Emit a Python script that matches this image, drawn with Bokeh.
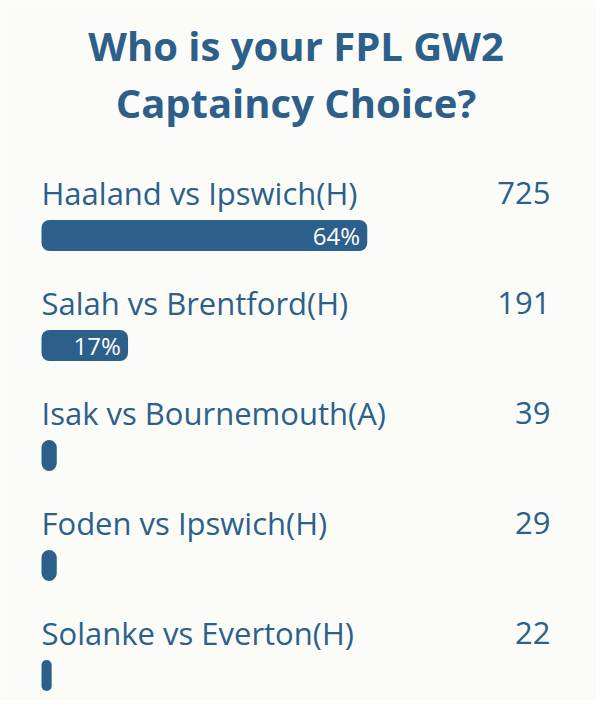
from bokeh.plotting import figure
from bokeh.models import Range1d, ColumnDataSource
from bokeh.core.properties import value
from bokeh.embed import file_html
from bokeh.resources import INLINE

# ---- data ----
title_lines = ["Who is your FPL GW2", "Captaincy Choice?"]
choices = ["Haaland vs Ipswich(H)", "Salah vs Brentford(H)", "Isak vs Bournemouth(A)",
           "Foden vs Ipswich(H)", "Solanke vs Everton(H)"]
votes = [725, 191, 39, 29, 22]
percents = [64, 17, 3, 3, 2]
pct_labels = ["64%", "17%", "", "", ""]

# ---- style / layout ----
BG = "#fbfcf8"
BLUE = "#2d5f8b"
FONT = "Open Sans"
W, H = 596, 700
PX_PER_PCT = 5.09          # 100% spans the full bar track
LEFT_PX = 41               # track start inside the figure
ROW0 = 192                 # first label row (figure px from top)
ROW_STEP = 110
BAR_OFF = 43

x0 = -LEFT_PX / PX_PER_PCT
x1 = x0 + W / PX_PER_PCT

p = figure(width=W, height=H, output_backend="svg", toolbar_location=None,
           x_range=Range1d(x0, x1), y_range=Range1d(H, 0),
           x_axis_type=None, y_axis_type=None, min_border=0)
p.background_fill_color = BG
p.border_fill_color = BG
p.outline_line_color = None
p.xgrid.visible = False
p.ygrid.visible = False

n = len(choices)
label_y = [ROW0 + i * ROW_STEP for i in range(n)]
bar_y = [y + BAR_OFF for y in label_y]

src = ColumnDataSource(dict(choice=choices, votes=[str(v) for v in votes],
                            pct=percents, pct_label=pct_labels,
                            ly=label_y, by=bar_y))

# title
p.text(x=[50, 50], y=[45, 102], text=title_lines, text_font=value(FONT),
       text_font_style="bold", text_font_size="40px", text_color=BLUE,
       text_align="center", text_baseline="middle")

# labels and counts
p.text(x=0, y="ly", text="choice", source=src, text_font=value(FONT),
       text_font_size="31px", text_color=BLUE, text_align="left",
       text_baseline="middle")
p.text(x=100, y="ly", text="votes", source=src, text_font=value(FONT),
       text_font_size="31px", text_color=BLUE, text_align="right",
       text_baseline="middle")

# bars
p.hbar(y="by", left=0, right="pct", height=31, source=src,
       fill_color=BLUE, line_color=None, border_radius=8)

# percentage inside bars
src_pct = ColumnDataSource(dict(x=[v - 1.4 for v in percents], y=bar_y, t=pct_labels))
p.text(x="x", y="y", text="t", source=src_pct, text_font=value(FONT),
       text_font_size="24px", text_color="white", text_align="right",
       text_baseline="middle")

open("out.html", "w").write(file_html(p, INLINE))
